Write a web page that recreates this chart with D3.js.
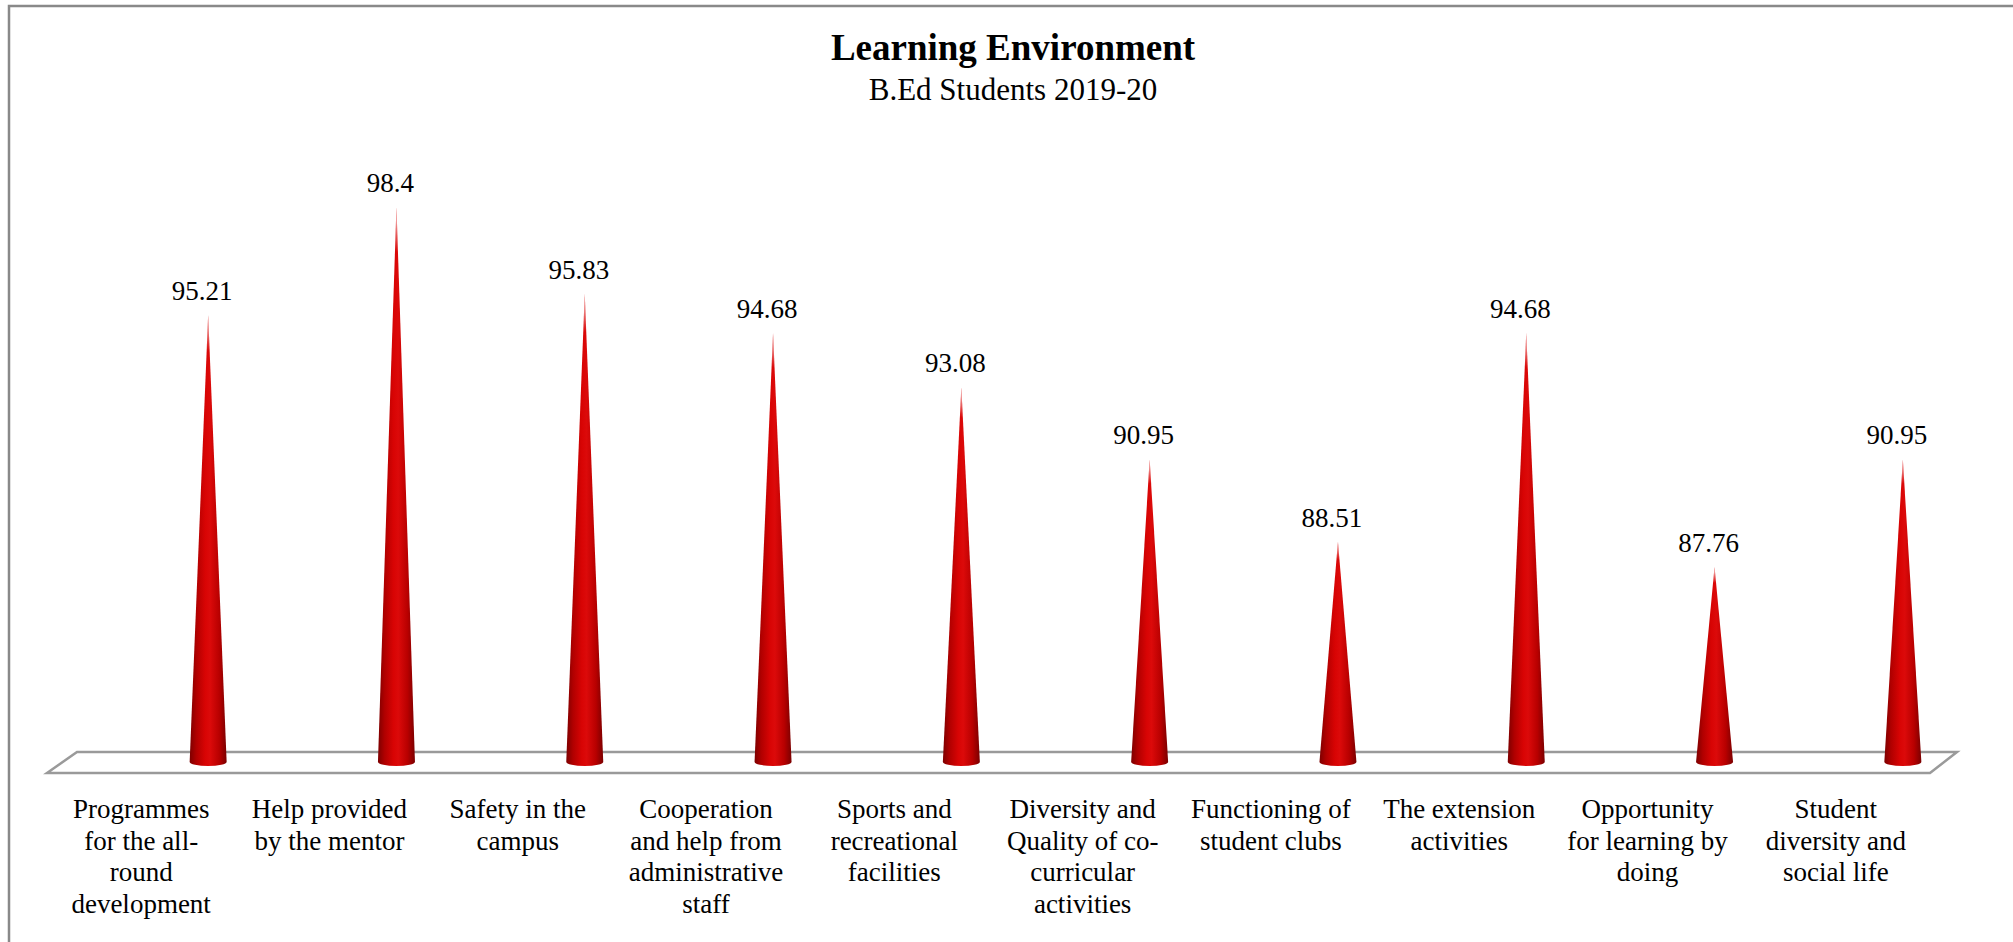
<!DOCTYPE html>
<html>
<head>
<meta charset="utf-8">
<script src="https://cdn.jsdelivr.net/npm/d3@7"></script>
<style>
  html, body { margin: 0; padding: 0; background: #fff; }
  svg { display: block; }
</style>
</head>
<body>
<svg id="chart" width="2013" height="942"></svg>
<script>
// Learning Environment - 3D cone chart
const categories = [
    "Programmes for the all-round development",
    "Help provided by the mentor",
    "Safety in the campus",
    "Cooperation and help from administrative staff",
    "Sports and recreational facilities",
    "Diversity and Quality of co-curricular activities",
    "Functioning of student clubs",
    "The extension activities",
    "Opportunity for learning by doing",
    "Student diversity and social life"
];
const values = [95.21, 98.4, 95.83, 94.68, 93.08, 90.95, 88.51, 94.68, 87.76, 90.95];
const valueLabels = ["95.21", "98.4", "95.83", "94.68", "93.08", "90.95", "88.51", "94.68", "87.76", "90.95"];
// tick labels as they wrap in the picture
const tickLines = [
    ["Programmes", "for the all-", "round", "development"],
    ["Help provided", "by the mentor"],
    ["Safety in the", "campus"],
    ["Cooperation", "and help from", "administrative", "staff"],
    ["Sports and", "recreational", "facilities"],
    ["Diversity and", "Quality of co-", "curricular", "activities"],
    ["Functioning of", "student clubs"],
    ["The extension", "activities"],
    ["Opportunity", "for learning by", "doing"],
    ["Student", "diversity and", "social life"]
];
const yDomain = [82, 100];

const W = 2013, H = 942;
const font = "'Liberation Serif', 'Times New Roman', serif";
const svg = d3.select("#chart");

// chart border
svg.append("rect")
    .attr("x", 9).attr("y", 6)
    .attr("width", W + 20).attr("height", H + 20)
    .attr("fill", "none")
    .attr("stroke", "#898989")
    .attr("stroke-width", 2.5);

// title
svg.append("text")
    .attr("x", 1013).attr("y", 60)
    .attr("text-anchor", "middle")
    .attr("font-family", font)
    .attr("font-weight", "bold")
    .attr("font-size", 37)
    .text("Learning Environment");

svg.append("text")
    .attr("x", 1013).attr("y", 100)
    .attr("text-anchor", "middle")
    .attr("font-family", font)
    .attr("font-size", 31)
    .text("B.Ed Students 2019-20");

// scales: front edge of floor for labels, cones sit further back (shifted right)
const floor = { fl: 47, fr: 1930, bl: 77, br: 1957, front: 773, back: 752 };
const x = d3.scaleBand().domain(categories).range([floor.fl, floor.fr]);
const coneShift = 67;
const y = d3.scaleLinear().domain(yDomain).range([762, 153]);

// floor plate
svg.append("path")
    .attr("d", `M${floor.fl},${floor.front} L${floor.bl},${floor.back} L${floor.br},${floor.back} L${floor.fr},${floor.front} Z`)
    .attr("fill", "#fff")
    .attr("stroke", "#9a9a9a")
    .attr("stroke-width", 2.5)
    .attr("stroke-linejoin", "miter");

// gradients for cone shading
const defs = svg.append("defs");
const grad = defs.append("linearGradient")
    .attr("id", "coneGrad")
    .attr("x1", "0%").attr("x2", "100%").attr("y1", "0%").attr("y2", "0%");
[[0, "#7c0000"], [0.18, "#b00000"], [0.42, "#d80404"], [0.55, "#dc0a0a"], [0.8, "#b80000"], [1, "#7a0000"]]
    .forEach(s => grad.append("stop").attr("offset", s[0]).attr("stop-color", s[1]));

const tipGrad = defs.append("linearGradient")
    .attr("id", "tipFade")
    .attr("x1", "0%").attr("x2", "0%").attr("y1", "0%").attr("y2", "100%");
tipGrad.append("stop").attr("offset", 0).attr("stop-color", "#fff").attr("stop-opacity", 0.85);
tipGrad.append("stop").attr("offset", 0.08).attr("stop-color", "#fff").attr("stop-opacity", 0);
tipGrad.append("stop").attr("offset", 1).attr("stop-color", "#fff").attr("stop-opacity", 0);

const baseR = 18.5, baseRy = 4;
const coneX = c => x(c) + x.bandwidth() / 2 + coneShift;
const baseY = y(yDomain[0]);

function conePath(d, i) {
    const cx = coneX(categories[i]);
    const ty = y(d);
    return `M${cx},${ty} L${cx + baseR},${baseY} A${baseR},${baseRy} 0 0 1 ${cx - baseR},${baseY} Z`;
}

const cones = svg.append("g").attr("class", "cones");
cones.selectAll("path.cone")
    .data(values)
    .enter().append("path")
    .attr("class", "cone")
    .attr("d", conePath)
    .attr("fill", "url(#coneGrad)");

cones.selectAll("path.tip")
    .data(values)
    .enter().append("path")
    .attr("class", "tip")
    .attr("d", conePath)
    .attr("fill", "url(#tipFade)");

// value labels
svg.append("g").selectAll("text")
    .data(values)
    .enter().append("text")
    .attr("x", (d, i) => coneX(categories[i]) - 6)
    .attr("y", d => y(d) - 15)
    .attr("text-anchor", "middle")
    .attr("font-family", font)
    .attr("font-size", 27)
    .attr("fill", "#000")
    .text((d, i) => valueLabels[i]);

// category labels
const ticks = svg.append("g").attr("class", "ticks")
    .selectAll("text")
    .data(categories)
    .enter().append("text")
    .attr("x", d => x(d) + x.bandwidth() / 2)
    .attr("y", 818)
    .attr("text-anchor", "middle")
    .attr("font-family", font)
    .attr("font-size", 27)
    .attr("fill", "#000");

ticks.each(function (d, i) {
    const t = d3.select(this);
    tickLines[i].forEach((line, j) => {
        t.append("tspan")
            .attr("x", x(d) + x.bandwidth() / 2)
            .attr("dy", j === 0 ? 0 : 31.7)
            .text(line);
    });
});
</script>
</body>
</html>
